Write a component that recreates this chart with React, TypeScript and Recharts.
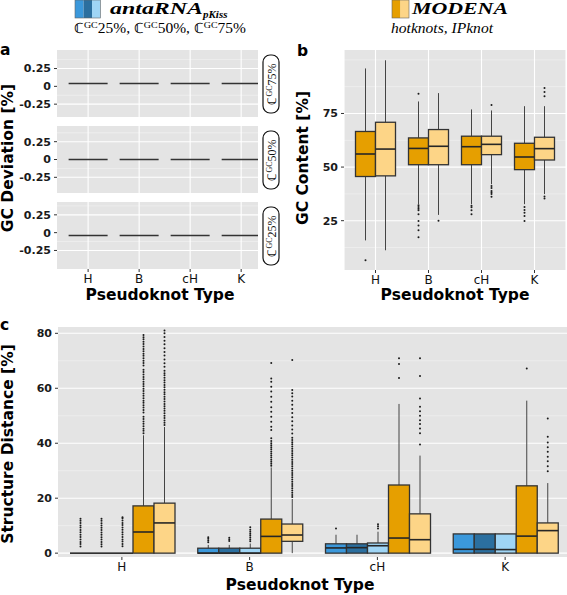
import React from 'react';
import { ComposedChart, ScatterChart, Scatter, Bar, XAxis, YAxis, CartesianGrid } from 'recharts';

const categories = ['H', 'B', 'cH', 'K'];

// a: GC deviation per facet (one value per pseudoknot type)
const gcDev75 = [0.04, 0.04, 0.04, 0.04];
const gcDev50 = [0, 0, 0, 0];
const gcDev25 = [-0.04, -0.04, -0.04, -0.04];

// box stats are [lower whisker, q1, median, q3, upper whisker]
// b: GC content
const gcHotknots = [[15.8, 45.6, 56.1, 66.6, 96], [32.7, 51.1, 58.7, 63.6, 80.6], [32.7, 51.1, 59.5, 64.4, 76.9], [32.7, 48.8, 54.7, 61.1, 78.4]];
const gcHotknotsOut = [[6.6], [84.2, 32.2, 31.4, 30.6, 29.9, 28, 24.8, 22.8, 20.5, 17.3], [32, 31.3, 29.9, 28], [31.4, 30, 28.7, 27.2, 24.8]];
const gcIPknot = [[11.2, 45.9, 58.4, 70.9, 99.8], [27.7, 51.1, 59.7, 67.5, 84.5], [42, 55.8, 60.6, 64.4, 76.4], [37.4, 53.3, 58.6, 63.9, 78.4]];
const gcIPknotOut = [[], [25], [79, 41.2, 40.2, 38.9, 38.1, 37.4, 36.2], [86.9, 85, 83, 36.3, 35.4]];

// c: structure distance
const sdAnt25 = [[0, 0, 0, 0, 0], [0, 0, 0, 1.8, 3], [0, 0, 1.9, 3.4, 6.7], [0, 0, 1.4, 7, 7]];
const sdAnt25Out = [[2.4, 3.3, 4.1, 5, 5.9, 6.7, 7.6, 8.4, 9.3, 10.1, 11, 11.8, 12.5], [4, 4.6, 5.2, 5.8], [9], []];
const sdAnt50 = [[0, 0, 0, 0, 0], [0, 0, 0, 1.8, 3], [0, 0, 2, 3.4, 6.7], [0, 0, 1.4, 7, 7]];
const sdAnt50Out = [[2.4, 3.2, 4.1, 5, 5.8, 6.7, 7.5, 8.4, 9.2, 10.1, 10.9, 11.8, 12.5], [4.4, 5, 5.6], [], []];
const sdAnt75 = [[0, 0, 0, 0, 0], [0, 0, 0, 1.8, 3.5], [0, 0, 2.7, 3.7, 7.8], [0, 0, 1.3, 7, 7]];
const sdAnt75Out = [[2.5, 3.3, 4.2, 5, 5.9, 6.8, 7.6, 8.5, 9.3, 10.2, 11, 11.9, 12.7, 13.1], [4.3, 5, 5.7, 6.4, 7.1, 7.8, 8.5, 9.4], [9, 9.8, 10.5], []];
const sdHotknots = [[0, 0, 7.7, 17.2, 42.9], [0, 0, 6.1, 12.4, 31.2], [0, 0, 5.5, 24.8, 54.3], [0, 0, 6.2, 24.5, 55.5]];
const sdHotknotsOut = [
  [43.6, 44.5, 45.3, 46.2, 47.1, 47.9, 48.8, 49.6, 51.2, 52.1, 53, 53.8, 54.7, 55.5, 56.4, 57.3, 58.1, 59, 59.8, 60.7, 61.6, 62.4, 63.3, 64.1, 65, 65.9, 66.7, 68.3, 69.2, 70, 70.9, 71.8, 72.6, 73.5, 74.3, 75.2, 76.1, 76.9, 77.8, 78.6, 79.4],
  [31.8, 32.5, 33.3, 34, 34.8, 35.5, 36.3, 37, 37.8, 38.5, 39.3, 40, 40.8, 41.8, 44.8, 46, 47.8, 49.6, 51.5, 53.1, 55.1, 56.9, 58.8, 60.6, 62.4, 63.6, 69.2],
  [63.7, 68.8, 70.9],
  [67.2],
];
const sdIPknot = [[0, 0, 11, 18.2, 45.9], [0, 4.3, 6.6, 10.6, 19.7], [0, 0, 4.9, 14.3, 35.5], [0, 0, 8.2, 11, 25.5]];
const sdIPknotOut = [
  [46.6, 47.5, 48.3, 49.2, 50, 50.9, 51.8, 52.6, 53.5, 54.3, 55.2, 56.1, 56.9, 57.8, 58.6, 59.5, 60.4, 61.2, 62.1, 62.9, 63.8, 64.7, 65.5, 66.4, 67.8, 69.1, 70.5, 71.9, 73.2, 74.6, 76, 77.3, 78.7, 80, 81],
  [20.4, 21.2, 22, 22.8, 23.6, 24.4, 25.2, 26, 26.8, 27.6, 28.4, 29.2, 30, 30.8, 31.6, 32.4, 33.2, 34, 34.8, 35.6, 36.4, 37.2, 38, 38.8, 39.6, 40.4, 41.2, 42, 43.5, 45, 46.5, 48, 49.5, 51, 52.5, 54, 55.5, 57, 58.2, 59.4, 70.3],
  [39.5, 43.6, 45.4, 47, 48.4, 50, 51.6, 53.3, 56.3, 64.5, 70.9],
  [29.8, 31.6, 33.4, 35.1, 36.9, 38.5, 40.3, 42.4, 49],
];

const BLUE1 = '#3b98db';
const BLUE2 = '#2b6f9f';
const BLUE3 = '#9fd5f5';
const ORANGE = '#e69f00';
const LIGHT_ORANGE = '#fdd587';
const PANEL = '#e4e4e4';
const SANS = 'DejaVu Sans';
const SERIF = 'Liberation Serif';

const domainB = [2, 104.6];
const domainC = [-1.4, 82.3];

const yTick = { fill: '#1a1a1a', fontSize: 11, fontWeight: 'bold', fontFamily: SANS };
const xTick = { fill: '#111', fontSize: 12, fontFamily: SANS };

// each bar spans the full y domain, so the bar's own scale maps any value to pixels
function boxShape(stats: number[][], outliers: number[][], domain: number[], fill: string) {
  return (props: any) => {
    const { x, y, width, height, index } = props;
    const s = stats[index];
    if (!s) return <g />;
    const toY = (v: number) => y + ((domain[1] - v) / (domain[1] - domain[0])) * height;
    const cx = x + width / 2;
    const [lo, q1, med, q3, hi] = s;
    return (
      <g>
        <line x1={cx} x2={cx} y1={toY(hi)} y2={toY(q3)} stroke="#444" strokeWidth={1} />
        <line x1={cx} x2={cx} y1={toY(q1)} y2={toY(lo)} stroke="#444" strokeWidth={1} />
        <rect x={x} y={toY(q3)} width={width} height={Math.max(toY(q1) - toY(q3), 0)} fill={fill} stroke="#333" strokeWidth={1.3} />
        <line x1={x} x2={x + width} y1={toY(med)} y2={toY(med)} stroke="#262626" strokeWidth={1.6} />
        {outliers[index].map((v, i) => (
          <circle key={i} cx={cx} cy={toY(v)} r={1} fill="#1a1a1a" />
        ))}
      </g>
    );
  };
}

const segment = (p: any) => (
  <line x1={p.cx - 19.5} x2={p.cx + 19.5} y1={p.cy} y2={p.cy} stroke="#333" strokeWidth={1.5} />
);

function DevFacet({ values, domain, top, showX }: { values: number[]; domain: number[]; top: number; showX: boolean }) {
  const rows = values.map((v, i) => ({ pos: i + 1, dev: v }));
  return (
    <div style={{ position: 'absolute', left: 0, top }}>
      <ScatterChart width={258} height={showX ? 87 : 67} margin={{ top: 0, right: 0, bottom: 0, left: 0 }}>
        <CartesianGrid fill={PANEL} stroke="#f3f3f3" strokeWidth={0.6} vertical={false} horizontalValues={[-0.375, -0.125, 0.125, 0.375]} />
        <CartesianGrid stroke="#fff" strokeWidth={1.1} horizontalValues={[-0.25, 0, 0.25]} verticalValues={[1, 2, 3, 4]} />
        <XAxis
          type="number"
          dataKey="pos"
          domain={[0.39, 4.33]}
          ticks={[1, 2, 3, 4]}
          tickFormatter={(v) => categories[v - 1]}
          hide={!showX}
          height={20}
          axisLine={false}
          tickSize={3}
          tickMargin={2}
          tick={xTick}
          stroke="#333"
        />
        <YAxis
          type="number"
          dataKey="dev"
          domain={domain}
          ticks={[-0.25, 0, 0.25]}
          width={57}
          axisLine={false}
          tickSize={3}
          tickMargin={3}
          tick={yTick}
          stroke="#333"
        />
        <Scatter data={rows} shape={segment} isAnimationActive={false} />
      </ScatterChart>
    </div>
  );
}

function GcContent() {
  const rows = categories.map((c) => ({ cat: c }));
  return (
    <div style={{ position: 'absolute', left: 304, top: 50 }}>
      <ComposedChart width={262} height={240} data={rows} barCategoryGap={6.5} barGap={0} margin={{ top: 0, right: 0, bottom: 0, left: 0 }}>
        <CartesianGrid fill={PANEL} stroke="#f3f3f3" strokeWidth={0.6} vertical={false} horizontalValues={[12.5, 37.5, 62.5, 87.5, 100]} />
        <CartesianGrid stroke="#fff" strokeWidth={1.1} horizontalValues={[25, 50, 75]} />
        <XAxis dataKey="cat" padding={{ left: 5, right: 5 }} height={20} axisLine={false} tickSize={3} tickMargin={2} tick={xTick} stroke="#333" />
        <YAxis type="number" domain={domainB} ticks={[25, 50, 75]} width={40} axisLine={false} tickSize={3} tickMargin={3} tick={yTick} stroke="#333" allowDataOverflow />
        <Bar dataKey={() => domainB} shape={boxShape(gcHotknots, gcHotknotsOut, domainB, ORANGE)} isAnimationActive={false} />
        <Bar dataKey={() => domainB} shape={boxShape(gcIPknot, gcIPknotOut, domainB, LIGHT_ORANGE)} isAnimationActive={false} />
      </ComposedChart>
    </div>
  );
}

function StructureDistance() {
  const rows = categories.map((c) => ({ cat: c }));
  const series = [
    [sdAnt25, sdAnt25Out, BLUE1],
    [sdAnt50, sdAnt50Out, BLUE2],
    [sdAnt75, sdAnt75Out, BLUE3],
    [sdHotknots, sdHotknotsOut, ORANGE],
    [sdIPknot, sdIPknotOut, LIGHT_ORANGE],
  ] as [number[][], number[][], string][];
  return (
    <div style={{ position: 'absolute', left: 18, top: 327 }}>
      <ComposedChart width={551} height={250} data={rows} barCategoryGap={12} barGap={0} margin={{ top: 0, right: 0, bottom: 0, left: 0 }}>
        <CartesianGrid fill={PANEL} stroke="#f3f3f3" strokeWidth={0.6} vertical={false} horizontalValues={[10, 30, 50, 70]} />
        <CartesianGrid stroke="#fff" strokeWidth={1.1} vertical={false} horizontalValues={[0, 20, 40, 60, 80]} />
        <XAxis dataKey="cat" height={20} axisLine={false} tickSize={3} tickMargin={2} tick={xTick} stroke="#333" />
        <YAxis type="number" domain={domainC} ticks={[0, 20, 40, 60, 80]} width={40} axisLine={false} tickSize={3} tickMargin={3} tick={yTick} stroke="#333" allowDataOverflow />
        {series.map(([st, out, col], i) => (
          <Bar key={i} dataKey={() => domainC} shape={boxShape(st, out, domainC, col)} isAnimationActive={false} />
        ))}
      </ComposedChart>
    </div>
  );
}

function StripLabel({ y, pct }: { y: number; pct: string }) {
  return (
    <g>
      <rect x={263} y={y} width={16} height={58} rx={7} fill="#fff" stroke="#111" strokeWidth={1.2} />
      <text transform={`translate(275.5,${y + 29}) rotate(-90)`} textAnchor="middle" fontFamily={SERIF} fontSize={12} fill="#111">
        ℂ<tspan fontSize={8} dy={-4}>GC</tspan>
        <tspan dy={4}>{pct}</tspan>
      </text>
    </g>
  );
}

function Annotations() {
  const title = { fontFamily: SANS, fontWeight: 'bold', fontSize: 15.5, fill: '#000' } as const;
  return (
    <svg width={567} height={595} style={{ position: 'absolute', left: 0, top: 0, pointerEvents: 'none' }}>
      {/* legend */}
      <rect x={75} y={0} width={8.5} height={18} fill={BLUE1} />
      <rect x={83.5} y={0} width={8.5} height={18} fill={BLUE2} />
      <rect x={92} y={0} width={8.5} height={18} fill={BLUE3} />
      <rect x={75} y={0} width={25.5} height={18} fill="none" stroke="#666" strokeWidth={0.6} />
      <text x={110} y={14} fontFamily={SERIF} fontStyle="italic" fontWeight="bold" fontSize={17} fill="#000">
        <tspan textLength={93} lengthAdjust="spacingAndGlyphs">antaRNA</tspan>
        <tspan fontSize={11} dy={4}>pKiss</tspan>
      </text>
      <text x={74} y={33} fontFamily={SERIF} fontSize={14} fill="#000" textLength={172} lengthAdjust="spacingAndGlyphs">
        ℂ<tspan fontSize={9} dy={-5}>GC</tspan><tspan dy={5}>25%, ℂ</tspan><tspan fontSize={9} dy={-5}>GC</tspan><tspan dy={5}>50%, ℂ</tspan><tspan fontSize={9} dy={-5}>GC</tspan><tspan dy={5}>75%</tspan>
      </text>
      <rect x={392} y={0} width={8.5} height={18} fill={ORANGE} />
      <rect x={400.5} y={0} width={8.5} height={18} fill={LIGHT_ORANGE} />
      <rect x={392} y={0} width={17} height={18} fill="none" stroke="#666" strokeWidth={0.6} />
      <text x={412} y={14} fontFamily={SERIF} fontStyle="italic" fontWeight="bold" fontSize={17} fill="#000" textLength={96} lengthAdjust="spacingAndGlyphs">
        MODENA
      </text>
      <text x={391} y={33} fontFamily={SERIF} fontStyle="italic" fontSize={14} fill="#000" textLength={102} lengthAdjust="spacingAndGlyphs">
        hotknots, IPknot
      </text>

      {/* panel letters */}
      <text x={0} y={55} style={title} fontSize={17}>a</text>
      <text x={297} y={56} style={title} fontSize={17}>b</text>
      <text x={0} y={330} style={title} fontSize={17}>c</text>

      {/* strip labels of panel a */}
      <StripLabel y={55} pct="75%" />
      <StripLabel y={131} pct="50%" />
      <StripLabel y={207} pct="25%" />

      {/* axis titles */}
      <text transform="translate(8,158) rotate(-90)" textAnchor="middle" dominantBaseline="central" style={title}>GC Deviation [%]</text>
      <text x={160} y={300} textAnchor="middle" style={title}>Pseudoknot Type</text>
      <text transform="translate(303,158) rotate(-90)" textAnchor="middle" dominantBaseline="central" style={title}>GC Content [%]</text>
      <text x={455} y={300} textAnchor="middle" style={title}>Pseudoknot Type</text>
      <text transform="translate(8,444) rotate(-90)" textAnchor="middle" dominantBaseline="central" style={title}>Structure Distance [%]</text>
      <text x={300} y={590} textAnchor="middle" style={title}>Pseudoknot Type</text>
    </svg>
  );
}

export default function App() {
  return (
    <div style={{ position: 'relative', width: 567, height: 595, overflow: 'hidden', background: '#fff', fontFamily: SANS }}>
      <style>{'body{margin:0}'}</style>
      <DevFacet values={gcDev75} domain={[-0.43, 0.51]} top={50} showX={false} />
      <DevFacet values={gcDev50} domain={[-0.47, 0.47]} top={126} showX={false} />
      <DevFacet values={gcDev25} domain={[-0.51, 0.43]} top={202} showX={true} />
      <GcContent />
      <StructureDistance />
      <Annotations />
    </div>
  );
}
